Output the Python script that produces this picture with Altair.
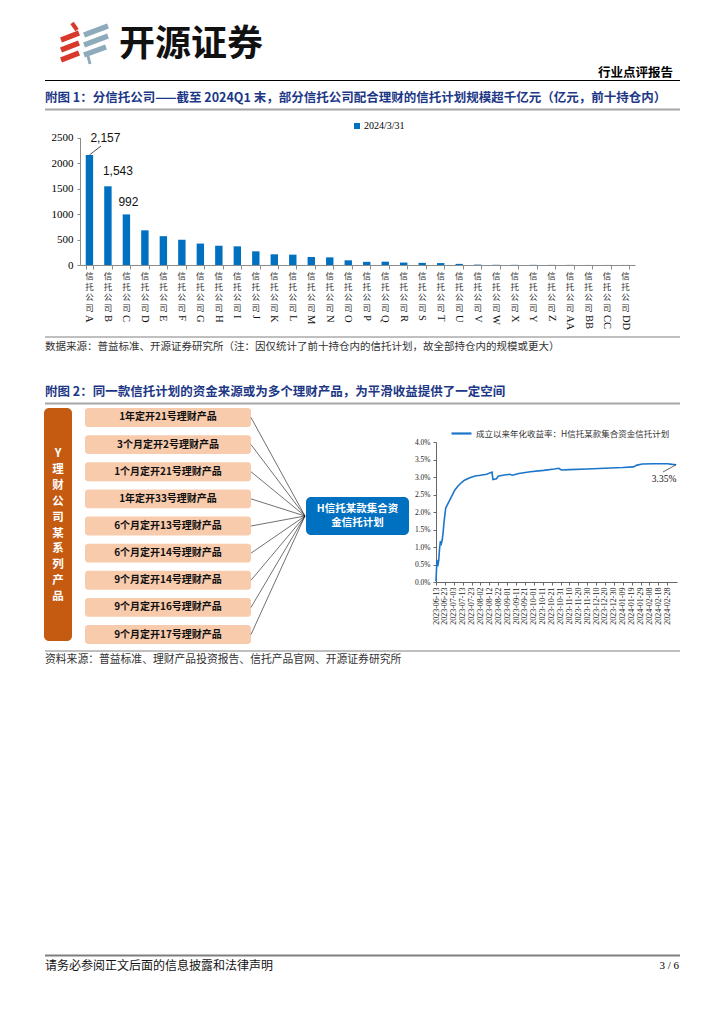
import altair as alt
import pandas as pd

# ---------------- data ----------------
companies = ["A", "B", "C", "D", "E", "F", "G", "H", "I", "J", "K", "L", "M", "N", "O",
             "P", "Q", "R", "S", "T", "U", "V", "W", "X", "Y", "Z", "AA", "BB", "CC", "DD"]
volumes = [2157, 1543, 992, 680, 565, 495, 420, 378, 366, 268, 210, 203, 157, 150, 92,
           62, 65, 48, 42, 38, 22, 8, 4, 3, 3, 2, 2, 1, 1, 1]
bar_series = "2024/3/31"
bar_ticks = [0, 500, 1000, 1500, 2000, 2500]
company_prefix = "信\n托\n公\n司"

products = ["1年定开21号理财产品", "3个月定开2号理财产品", "1个月定开21号理财产品",
            "1年定开33号理财产品", "6个月定开13号理财产品", "6个月定开14号理财产品",
            "9个月定开14号理财产品", "9个月定开16号理财产品", "9个月定开17号理财产品"]
side_label = "Y\n理\n财\n公\n司\n某\n系\n列\n产\n品"
hub_lines = ["H信托某款集合资", "金信托计划"]

line_series = "成立以来年化收益率：H信托某款集合资金信托计划"
line_dates = ["2023-06-13", "2023-06-14", "2023-06-15", "2023-06-16", "2023-06-17", "2023-06-18",
              "2023-06-19", "2023-06-20", "2023-06-21", "2023-06-22", "2023-06-23", "2023-06-24",
              "2023-06-26", "2023-06-28", "2023-06-30", "2023-07-02", "2023-07-04", "2023-07-08",
              "2023-07-12", "2023-07-15", "2023-07-21", "2023-07-27", "2023-08-02", "2023-08-09",
              "2023-08-15", "2023-08-16", "2023-08-20", "2023-08-22", "2023-08-27", "2023-09-04",
              "2023-09-07", "2023-09-14", "2023-09-27", "2023-10-12", "2023-10-24", "2023-10-29",
              "2023-11-01", "2023-11-10", "2023-11-30", "2023-12-20", "2024-01-09", "2024-01-21",
              "2024-01-25", "2024-01-31", "2024-02-13", "2024-02-28", "2024-03-05", "2024-03-09"]
line_values = [0.02, 0.63, 0.45, 0.60, 0.95, 1.17,
               1.10, 1.20, 1.42, 1.70, 1.93, 2.12,
               2.22, 2.32, 2.42, 2.52, 2.62, 2.75,
               2.85, 2.91, 2.98, 3.03, 3.05, 3.08,
               3.14, 2.93, 2.95, 3.02, 3.05, 3.08,
               3.05, 3.10, 3.15, 3.19, 3.23, 3.25,
               3.20, 3.21, 3.23, 3.25, 3.27, 3.29,
               3.34, 3.37, 3.38, 3.38, 3.36, 3.35]
rate_ticks = [0.0, 0.5, 1.0, 1.5, 2.0, 2.5, 3.0, 3.5, 4.0]
date_ticks = ["2023-06-13", "2023-06-23", "2023-07-03", "2023-07-13", "2023-07-23", "2023-08-02",
              "2023-08-12", "2023-08-22", "2023-09-01", "2023-09-11", "2023-09-21", "2023-10-01",
              "2023-10-11", "2023-10-21", "2023-10-31", "2023-11-10", "2023-11-20", "2023-11-30",
              "2023-12-10", "2023-12-20", "2023-12-30", "2024-01-09", "2024-01-19", "2024-01-29",
              "2024-02-08", "2024-02-18", "2024-02-28"]
date_domain = ["2023-06-13", "2024-03-10"]

brand = "开源证券"
report_type = "行业点评报告"
fig1_title = "附图 1：分信托公司——截至 2024Q1 末，部分信托公司配合理财的信托计划规模超千亿元（亿元，前十持仓内）"
fig1_source = "数据来源：普益标准、开源证券研究所（注：因仅统计了前十持仓内的信托计划，故全部持仓内的规模或更大）"
fig2_title = "附图 2：同一款信托计划的资金来源或为多个理财产品，为平滑收益提供了一定空间"
fig2_source = "资料来源：普益标准、理财产品投资报告、信托产品官网、开源证券研究所"
footer_note = "请务必参阅正文后面的信息披露和法律声明"
page_no = "3 / 6"

# ---------------- styles ----------------
CJK = "Noto Sans CJK SC"
SERIF = "Liberation Serif"
SANS = "Liberation Sans"
NAVY = "#1C3786"
BLUE = "#0070C0"
M = 8  # page margin


def dt(s):
    return alt.DateTime(year=int(s[:4]), month=int(s[5:7]), date=int(s[8:10]), utc=True)


def one(s=""):
    return pd.DataFrame({"t": [s]})


def page_text(s, x, y, size, color="#000", weight="normal", align="left",
              font=CJK, baseline="middle", **kw):
    return alt.Chart(one(s)).mark_text(
        align=align, baseline=baseline, font=font, fontSize=size,
        fontWeight=weight, color=color, **kw
    ).encode(x=alt.value(x - M), y=alt.value(y - M), text="t:N")


def page_rule(x1, y1, x2, y2, color, width, cap="butt"):
    return alt.Chart(one()).mark_rule(color=color, strokeWidth=width, strokeCap=cap).encode(
        x=alt.value(x1 - M), y=alt.value(y1 - M), x2=alt.value(x2 - M), y2=alt.value(y2 - M))


def page_rect(x1, y1, x2, y2, color, radius=0):
    return alt.Chart(one()).mark_rect(color=color, cornerRadius=radius).encode(
        x=alt.value(x1 - M), y=alt.value(y1 - M), x2=alt.value(x2 - M), y2=alt.value(y2 - M))


# ---------------- header / frame ----------------
RED = "#D8392C"
GREYBLUE = "#8EABBB"
logo = [
    page_rule(72, 23, 77, 30, RED, 4),
    page_rule(61, 40, 79, 33, RED, 5.5),
    page_rule(61, 50, 79, 43, RED, 5.5),
    page_rule(61, 60, 79, 53, RED, 5.5),
    page_rule(84, 35, 108, 26, GREYBLUE, 5.5),
    page_rule(84, 45, 108, 36, GREYBLUE, 5.5),
    page_rule(84, 55, 106, 47, GREYBLUE, 5.5),
    page_rule(88, 56, 90, 64, GREYBLUE, 3),
]
frame = logo + [
    page_text(brand, 119, 45, 36, weight="bold", color="#111"),
    page_text(report_type, 673, 73, 12.5, weight="bold", align="right"),
    page_rule(45, 80.5, 680, 80.5, "#000", 1.2),
    page_text(fig1_title, 45, 98, 12.5, weight="bold", color=NAVY),
    page_rule(45, 109.5, 680, 109.5, "#A6A6A6", 2),
    page_rule(45, 337, 680, 337, "#808080", 1),
    page_text(fig1_source, 45, 346.5, 10.5, color="#333"),
    page_text(fig2_title, 45, 392, 12.5, weight="bold", color=NAVY),
    page_rule(45, 403.5, 680, 403.5, "#A6A6A6", 2),
    page_rule(45, 651, 680, 651, "#808080", 1),
    page_text(fig2_source, 45, 660, 10.8, color="#333"),
    page_rule(45, 955.5, 680, 955.5, "#7F7F7F", 2),
    page_text(footer_note, 45, 966, 12, color="#111"),
    page_text(page_no, 679, 966, 11, align="right", font=SERIF),
]

# ---------------- figure 1: bar chart ----------------
bar_df = pd.DataFrame({"company": companies, "volume": volumes,
                       "series": bar_series, "prefix": company_prefix})

x_bar = alt.X("company:N", sort=companies,
              scale=alt.Scale(range=[80 - M, 635 - M], paddingInner=0.6, paddingOuter=0.31),
              axis=alt.Axis(orient="bottom", offset=(265 - M) - 1000, labels=False, title=None,
                            tickBand="extent", domainColor="#8C8C8C", tickColor="#8C8C8C",
                            tickSize=4, grid=False))
y_bar = alt.Y("volume:Q",
              scale=alt.Scale(domain=[0, 2500], range=[265 - M, 137.5 - M], nice=False),
              axis=alt.Axis(orient="left", offset=-(80 - M), values=bar_ticks, title=None,
                            format="d", labelFont=SERIF, labelFontSize=11, labelColor="#000",
                            domainColor="#8C8C8C", tickColor="#8C8C8C", tickSize=3,
                            labelPadding=4, grid=False))

bars = alt.Chart(bar_df).mark_bar().encode(
    x=x_bar, y=y_bar,
    color=alt.Color("series:N", scale=alt.Scale(domain=[bar_series], range=[BLUE]),
                    legend=alt.Legend(orient="none", legendX=352 - M, legendY=121 - M,
                                      title=None, symbolType="square", symbolSize=36,
                                      symbolStrokeWidth=0, labelFont=SERIF, labelFontSize=10,
                                      labelColor="#000", labelOffset=2, padding=0)))

x_prefix = alt.Chart(bar_df).mark_text(
    font=CJK, fontSize=8.5, lineBreak="\n", lineHeight=10.6, baseline="top",
    align="center", color="#333").encode(x=x_bar, y=alt.value(272 - M), text="prefix:N")
x_letter = alt.Chart(bar_df).mark_text(
    font=SERIF, fontSize=10.5, angle=90, align="left", baseline="middle",
    color="#111").encode(x=x_bar, y=alt.value(315 - M), text="company:N")


def bar_label(name, dx, dy):
    return alt.Chart(bar_df).transform_filter(alt.datum.company == name).mark_text(
        font=SANS, fontSize=12, color="#111", dx=dx, dy=dy).encode(
        x=x_bar, y=y_bar, text=alt.Text("volume:Q", format=","))


leader_a = alt.Chart(bar_df).transform_filter(alt.datum.company == "A").mark_rule(
    color="#222", strokeWidth=0.8).encode(
    x=x_bar, y=y_bar, x2=alt.value(101 - M), y2=alt.value(146 - M))

bar_group = alt.layer(bars, x_prefix, x_letter, leader_a,
                      bar_label("A", 16, -17), bar_label("B", 10, -15), bar_label("C", 2, -12))

# ---------------- figure 2: diagram ----------------
prod_df = pd.DataFrame({"product": products})
y_prod = alt.Y("product:N", sort=products,
               scale=alt.Scale(range=[408 - M, 644 - M], paddingInner=0.3, paddingOuter=0),
               axis=None)
prod_boxes = alt.Chart(prod_df).mark_rect(color="#F8CBAD", cornerRadius=3).encode(
    y=y_prod, x=alt.value(85 - M), x2=alt.value(251 - M))
prod_text = alt.Chart(prod_df).mark_text(font=CJK, fontSize=10, fontWeight="bold",
                                         color="#111").encode(
    y=y_prod, x=alt.value(168 - M), text="product:N")
prod_links = alt.Chart(prod_df).mark_rule(color="#111", strokeWidth=0.6).encode(
    y=y_prod, x=alt.value(251 - M), x2=alt.value(305 - M), y2=alt.value(516 - M))
diagram_group = alt.layer(prod_boxes, prod_text, prod_links)

diagram_static = [
    page_rect(44, 408, 72, 641, "#C55A11", 5),
    page_text(side_label, 58, 448, 11.5, color="#FFF", weight="bold", align="center",
              baseline="top", lineBreak="\n", lineHeight=15.9),
    page_rect(306, 497, 409, 535, BLUE, 5),
    page_text(hub_lines[0], 357.5, 509, 10.5, color="#FFF", weight="bold", align="center"),
    page_text(hub_lines[1], 357.5, 523, 10.5, color="#FFF", weight="bold", align="center"),
]

# ---------------- figure 2: line chart ----------------
line_df = pd.DataFrame({"date": line_dates, "rate": line_values, "series": line_series,
                        "order": list(range(len(line_dates)))})

x_line = alt.X("date:T",
               scale=alt.Scale(type="utc", domain=[dt(d) for d in date_domain],
                               range=[436 - M, 677 - M]),
               axis=alt.Axis(orient="bottom", offset=(582 - M) - 1000,
                             values=[dt(d) for d in date_ticks], format="%Y-%m-%d",
                             labelAngle=270, labelFont=SERIF, labelFontSize=8,
                             labelColor="#222", labelOverlap=False, labelFlush=False,
                             labelPadding=2, title=None, grid=False, tickSize=3,
                             domainColor="#666", tickColor="#666"))
y_line = alt.Y("rate:Q",
               scale=alt.Scale(domain=[0, 4], range=[582 - M, 442 - M], nice=False),
               axis=alt.Axis(orient="left", offset=-(436 - M), values=rate_ticks,
                             labelExpr="format(datum.value, '.1f') + '%'",
                             labelFont=SERIF, labelFontSize=7.5, labelColor="#222",
                             labelPadding=3, title=None, grid=False, tickSize=3,
                             domainColor="#666", tickColor="#666"))

line = alt.Chart(line_df).mark_line(strokeWidth=1.6).encode(
    x=x_line, y=y_line, order="order:Q",
    color=alt.Color("series:N", scale=alt.Scale(domain=[line_series], range=["#1B75C9"]),
                    legend=alt.Legend(orient="none", legendX=450 - M, legendY=422 - M,
                                      title=None, symbolType="stroke", symbolSize=400,
                                      symbolStrokeWidth=2.2, labelFont=CJK, labelFontSize=8.5,
                                      labelColor="#333", labelOffset=3, padding=0,
                                      labelLimit=400)))
last_point = alt.Chart(line_df).transform_filter(alt.datum.order == len(line_dates) - 1)
end_leader = last_point.mark_rule(color="#222", strokeWidth=0.7).encode(
    x=x_line, y=y_line, x2=alt.value(663 - M), y2=alt.value(472 - M))
end_label = last_point.transform_calculate(
    lab="format(datum.rate, '.2f') + '%'").mark_text(
    font=SERIF, fontSize=9.5, color="#111", dx=-12, dy=14).encode(
    x=x_line, y=y_line, text="lab:N")
line_group = alt.layer(line, end_leader, end_label)

# ---------------- assemble ----------------
chart = alt.layer(
    *frame, *diagram_static, bar_group, diagram_group, line_group
).resolve_scale(
    x="independent", y="independent", color="independent"
).properties(
    width=708, height=1000, padding=0,
    autosize=alt.AutoSizeParams(type="none"),
    background="#FFFFFF",
).configure_view(strokeWidth=0)

chart.save("out.html", embed_options={"renderer": "svg", "actions": False})
